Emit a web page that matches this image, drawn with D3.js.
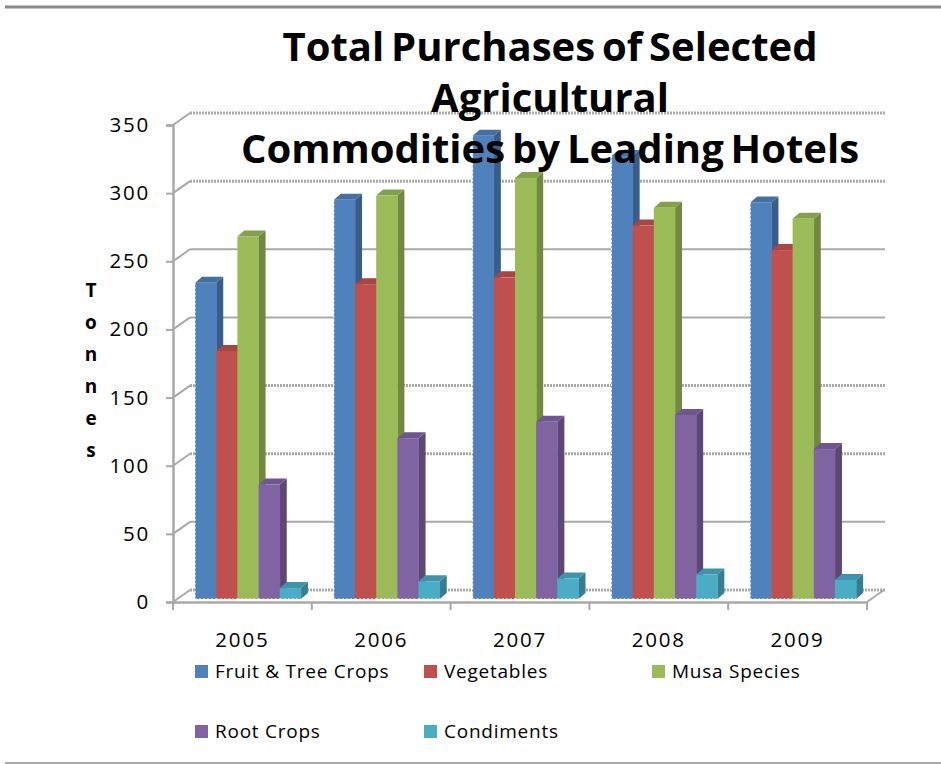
<!DOCTYPE html>
<html>
<head>
<meta charset="utf-8">
<script src="https://d3js.org/d3.v7.min.js"></script>
<style>
  body { margin: 0; background: #fff; }
  text { font-family: "Open Sans", sans-serif; fill: #000; }
  .tick text { font-size: 20.5px; letter-spacing: 1.8px; }
  .legend text { font-size: 19px; letter-spacing: 0.75px; }
</style>
</head>
<body>
<div id="chartContainer"></div>
<script>
var years = ["2005", "2006", "2007", "2008", "2009"];
var seriesNames = ["Fruit & Tree Crops", "Vegetables", "Musa Species", "Root Crops", "Condiments"];

var fruitTree = [232, 293, 340, 325, 291];
var vegetables = [182, 231, 236, 274, 256];
var musa = [266, 296, 309, 287, 279];
var rootCrops = [84, 118, 130, 135, 110];
var condiments = [8, 13, 15, 18, 14];

var yTicks = [0, 50, 100, 150, 200, 250, 300, 350];
var dottedTicks = [0, 100, 150, 300, 350];
var titleLines = ["Total Purchases of Selected", "Agricultural", "Commodities by Leading Hotels"];
var yTitle = "Tonnes";

var frontColors = ["#4f81bd", "#c0504d", "#9bbb59", "#8064a2", "#4bacc6"];
var sideColors = ["#385d8a", "#8c3836", "#71893f", "#5c4776", "#357d91"];
var topColors = ["#44709f", "#a84644", "#84a04b", "#6e5690", "#3f93aa"];

var width = 941, height = 764;
var plot = { left: 173, right: 867, top: 125, bottom: 602 };
var wall = { dx: 17, dy: -12 };   // floor depth of the fake 3d box
var bar = { dx: 5.6, dy: -3, depthX: 7, depthY: -6 };

var seriesValues = [fruitTree, vegetables, musa, rootCrops, condiments];

var svg = d3.select("#chartContainer")
  .append("svg")
  .attr("width", width)
  .attr("height", height);

// page rules, top and bottom
svg.append("line").attr("x1", 5).attr("x2", width).attr("y1", 7).attr("y2", 7)
  .attr("stroke", "#8a8a8a").attr("stroke-width", 3);
svg.append("line").attr("x1", 5).attr("x2", width).attr("y1", 763).attr("y2", 763)
  .attr("stroke", "#a8a8a8").attr("stroke-width", 2);

var yScale = d3.scaleLinear().domain([0, 350]).range([plot.bottom, plot.top]);
var x0 = d3.scaleBand().domain(years).range([plot.left, plot.right]);
var x1 = d3.scaleBand().domain(seriesNames).range([0, x0.step()]).paddingOuter(0.778);

// back wall grid
var gray = "#a9a9a9";
var grid = svg.append("g");
grid.selectAll("line.grid")
  .data(yTicks)
  .enter()
  .append("line")
  .attr("class", "grid")
  .attr("x1", plot.left + wall.dx)
  .attr("x2", plot.right + wall.dx + 1)
  .attr("y1", d => yScale(d) + wall.dy)
  .attr("y2", d => yScale(d) + wall.dy)
  .attr("stroke", gray)
  .attr("stroke-width", d => dottedTicks.includes(d) ? 3 : 2)
  .attr("stroke-dasharray", d => dottedTicks.includes(d) ? "2,1" : null);

// side wall diagonals
grid.selectAll("line.diag")
  .data(yTicks)
  .enter()
  .append("line")
  .attr("class", "diag")
  .attr("x1", plot.left)
  .attr("x2", plot.left + wall.dx)
  .attr("y1", d => yScale(d))
  .attr("y2", d => yScale(d) + wall.dy)
  .attr("stroke", gray)
  .attr("stroke-width", 2);

grid.append("line")
  .attr("x1", plot.right).attr("x2", plot.right + wall.dx)
  .attr("y1", plot.bottom).attr("y2", plot.bottom + wall.dy)
  .attr("stroke", gray).attr("stroke-width", 2);

// bars, back to front within each year
var groups = svg.selectAll(".year")
  .data(years)
  .enter()
  .append("g")
  .attr("class", "year")
  .attr("transform", d => "translate(" + [x0(d) + bar.dx, bar.dy] + ")");

groups.each(function(year, yi) {
  var g = d3.select(this);
  seriesNames.forEach((name, si) => {
    var v = seriesValues[si][yi];
    var x = x1(name), w = x1.bandwidth(), yTop = yScale(v), yBase = yScale(0);
    var d = bar.depthX, e = bar.depthY;
    g.append("path")
      .attr("fill", sideColors[si])
      .attr("d", d3.line()([[x + w, yTop], [x + w + d, yTop + e], [x + w + d, yBase + e], [x + w, yBase]]) + "Z");
    g.append("path")
      .attr("fill", topColors[si])
      .attr("d", d3.line()([[x, yTop], [x + d, yTop + e], [x + w + d, yTop + e], [x + w, yTop]]) + "Z");
    g.append("rect")
      .attr("x", x)
      .attr("y", yTop)
      .attr("width", w + 0.4)
      .attr("height", yBase - yTop)
      .attr("fill", frontColors[si]);
    // the rough white pixel edge along the foot of the bars
    g.append("line")
      .attr("x1", x).attr("x2", x + w + 0.4)
      .attr("y1", yBase).attr("y2", yBase)
      .attr("stroke", "#fff").attr("stroke-width", 1).attr("stroke-dasharray", "2,2");
    if (si == 0) {
      g.append("line")
        .attr("x1", x).attr("x2", x)
        .attr("y1", yTop).attr("y2", yBase)
        .attr("stroke", "#fff").attr("stroke-width", 1).attr("stroke-dasharray", "2,2");
    }
  });
});

// axes
var yAxis = d3.axisLeft(yScale).tickValues(yTicks).tickSize(7).tickPadding(16);
var yG = svg.append("g").attr("transform", "translate(" + plot.left + ",0)").call(yAxis);
var xAxis = d3.axisBottom(x0).tickSize(0).tickPadding(30);
var xG = svg.append("g").attr("transform", "translate(0," + plot.bottom + ")").call(xAxis);
[yG, xG].forEach(a => {
  a.selectAll("path.domain").attr("stroke", gray).attr("stroke-width", 2.5);
  a.selectAll("line").attr("stroke", gray).attr("stroke-width", 2);
});

// boundary ticks on the category axis
svg.selectAll("line.xTick")
  .data(d3.range(years.length + 1))
  .enter()
  .append("line")
  .attr("class", "xTick")
  .attr("x1", i => plot.left + i * x0.step())
  .attr("x2", i => plot.left + i * x0.step())
  .attr("y1", plot.bottom)
  .attr("y2", plot.bottom + 8)
  .attr("stroke", gray)
  .attr("stroke-width", 2);

// y title, one letter per line
svg.append("text")
  .attr("font-size", 19)
  .attr("font-weight", 700)
  .attr("text-anchor", "middle")
  .selectAll("tspan")
  .data(yTitle.split(""))
  .enter()
  .append("tspan")
  .attr("x", 91)
  .attr("y", (d, i) => 297 + i * 32)
  .text(d => d);

// legend
var legendX = [195, 424, 652, 195, 424];
var legendY = [672, 672, 672, 732, 732];
var legend = svg.selectAll(".legend")
  .data(seriesNames)
  .enter()
  .append("g")
  .attr("class", "legend")
  .attr("transform", (d, i) => "translate(" + [legendX[i], legendY[i]] + ")");
legend.append("rect")
  .attr("x", 0).attr("y", -7).attr("width", 13).attr("height", 13)
  .attr("fill", (d, i) => frontColors[i]);
legend.append("text")
  .attr("x", 20)
  .attr("y", 6)
  .text(d => d);

// title sits on top of the plot, as in the original
svg.append("g").selectAll("text")
  .data(titleLines)
  .enter()
  .append("text")
  .attr("x", 550)
  .attr("y", (d, i) => 61 + i * 51)
  .attr("text-anchor", "middle")
  .attr("font-size", 40)
  .attr("font-weight", 700)
  .attr("word-spacing", -3.5)
  .text(d => d);
</script>
</body>
</html>
